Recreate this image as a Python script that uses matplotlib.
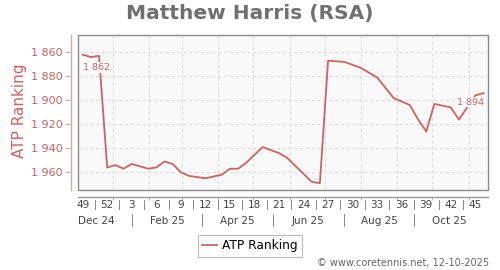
import numpy as np
import matplotlib
matplotlib.use("Agg")
import matplotlib.pyplot as plt
import matplotlib.transforms as mtransforms

# ── data: weeks counted from week 49 of 2024, ATP ranking ──
week_idx = [0, 1, 2, 3, 4, 5, 6, 7, 8, 9, 10, 11, 12, 13, 15, 17, 18, 19, 20,
            22, 24, 25, 28, 29, 30, 32, 34, 36, 38, 40, 41, 42, 43, 45, 46, 48, 49]
ranking = [1862, 1864, 1863, 1956, 1954, 1957, 1953, 1955, 1957, 1956, 1951,
           1953, 1960, 1963, 1965, 1962, 1957, 1957, 1952, 1939, 1944, 1948,
           1968, 1969, 1867, 1868, 1873, 1881, 1898, 1904, 1916, 1926, 1903,
           1906, 1916, 1896, 1894]

week_labels = ["49", "52", "3", "6", "9", "12", "15", "18", "21", "24", "27",
               "30", "33", "36", "39", "42", "45"]
month_labels = ["Dec 24", "Feb 25", "Apr 25", "Jun 25", "Aug 25", "Oct 25"]
y_ticks = [1860, 1880, 1900, 1920, 1940, 1960]
days_in_month = [31, 28, 31, 30, 31, 30, 31, 31, 30, 31]

RED = "#cc6262"
SPINE_RED = "#dba6a6"
GREY_TXT = "#444444"

fig = plt.figure(figsize=(5, 2.7), dpi=100)
ax = fig.add_axes([78 / 500, 1 - 190 / 270, 410 / 500, 155 / 270])

ax.set_facecolor("#f9f9f9")
ax.patch.set_edgecolor("#8a8a8a")
ax.patch.set_linewidth(1.0)

ax.plot(week_idx, ranking, color=RED, lw=1.3, zorder=3, solid_joinstyle="round")

ax.set_xlim(-0.57, 49.55)
ax.set_ylim(1974.75, 1845.6)

# month gridlines (first of each month)
grid_x = 3.74 + np.concatenate([[0], np.cumsum(days_in_month)]) / 7.0
for gx in grid_x:
    ax.axvline(gx, color="#d9d9d9", lw=0.7, ls=(0, (3, 3)), zorder=1)
for yt in y_ticks:
    ax.axhline(yt, color="#d9d9d9", lw=0.7, ls=(0, (3, 3)), zorder=1)

# spines
for s in ["top", "right"]:
    ax.spines[s].set_visible(False)
ax.spines["left"].set_position(("outward", 5))
ax.spines["left"].set_color(SPINE_RED)
ax.spines["left"].set_linewidth(1.0)
ax.spines["bottom"].set_position(("outward", 5))
ax.spines["bottom"].set_color("#999999")
ax.spines["bottom"].set_linewidth(1.0)

ax.set_yticks(y_ticks)
ax.set_yticklabels([f"{v:,}".replace(",", " ") for v in y_ticks])
ax.tick_params(axis="y", colors=SPINE_RED, labelcolor=RED, length=4,
               width=0.8, pad=2, labelsize=8)
ax.set_xticks(grid_x)
ax.set_xticklabels([])
ax.tick_params(axis="x", length=2, width=0.7, colors="#bbbbbb")

# week labels with separators
trans = mtransforms.blended_transform_factory(ax.transData, ax.transAxes)
week_pos = np.arange(len(week_labels)) * 3
for p, lab in zip(week_pos, week_labels):
    ax.text(p, -0.097, lab, transform=trans, ha="center", va="center",
            fontsize=7.5, color=GREY_TXT, clip_on=False)
for p in week_pos[:-1] + 1.5:
    ax.plot([p, p], [-0.065, -0.123], transform=trans, color="#888888",
            lw=0.7, clip_on=False)

# month labels with separators
month_sep = 5.99 + np.arange(len(month_labels) - 1) * 8.64
month_pos = np.concatenate([[month_sep[0] - 4.32], month_sep + 4.32])
for p, lab in zip(month_pos, month_labels):
    ax.text(p, -0.20, lab, transform=trans, ha="center", va="center",
            fontsize=7.5, color=GREY_TXT, clip_on=False)
for p in month_sep:
    ax.plot([p, p], [-0.155, -0.235], transform=trans, color="#888888",
            lw=0.7, clip_on=False)

# first / last value labels
box = dict(facecolor="#f9f9f9", edgecolor="none", pad=0.6)
ax.annotate(f"{ranking[0]:,}".replace(",", " "), (week_idx[0], ranking[0]),
            xytext=(0, -9), textcoords="offset points", ha="left", va="center",
            fontsize=6.8, color=RED, bbox=box, zorder=4)
ax.annotate(f"{ranking[-1]:,}".replace(",", " "), (week_idx[-1], ranking[-1]),
            xytext=(0, -6.5), textcoords="offset points", ha="right", va="center",
            fontsize=6.8, color=RED, bbox=box, zorder=4)

fig.text(249.5 / 500, 1 - 13.5 / 270, "Matthew Harris (RSA)", ha="center",
         va="center", fontsize=14.5, fontweight="bold", color="#707070")
fig.text(20 / 500, 1 - 111 / 270, "ATP Ranking", rotation=90, ha="center",
         va="center", fontsize=11, color=RED)

handle = plt.Line2D([], [], color=RED, lw=1.3)
leg = fig.legend([handle], ["ATP Ranking"], loc="center",
                 bbox_to_anchor=(250 / 500, 1 - 246 / 270), fontsize=8.8,
                 frameon=True, fancybox=False, handlelength=1.2,
                 handletextpad=0.4, borderpad=0.35)
leg.get_frame().set_edgecolor("#aaaaaa")
leg.get_frame().set_linewidth(0.8)

fig.text(489 / 500, 1 - 263 / 270, "\u00a9 www.coretennis.net, 12-10-2025",
         ha="right", va="center", fontsize=7, color="#666666")

fig.savefig("out.png", dpi=100)
